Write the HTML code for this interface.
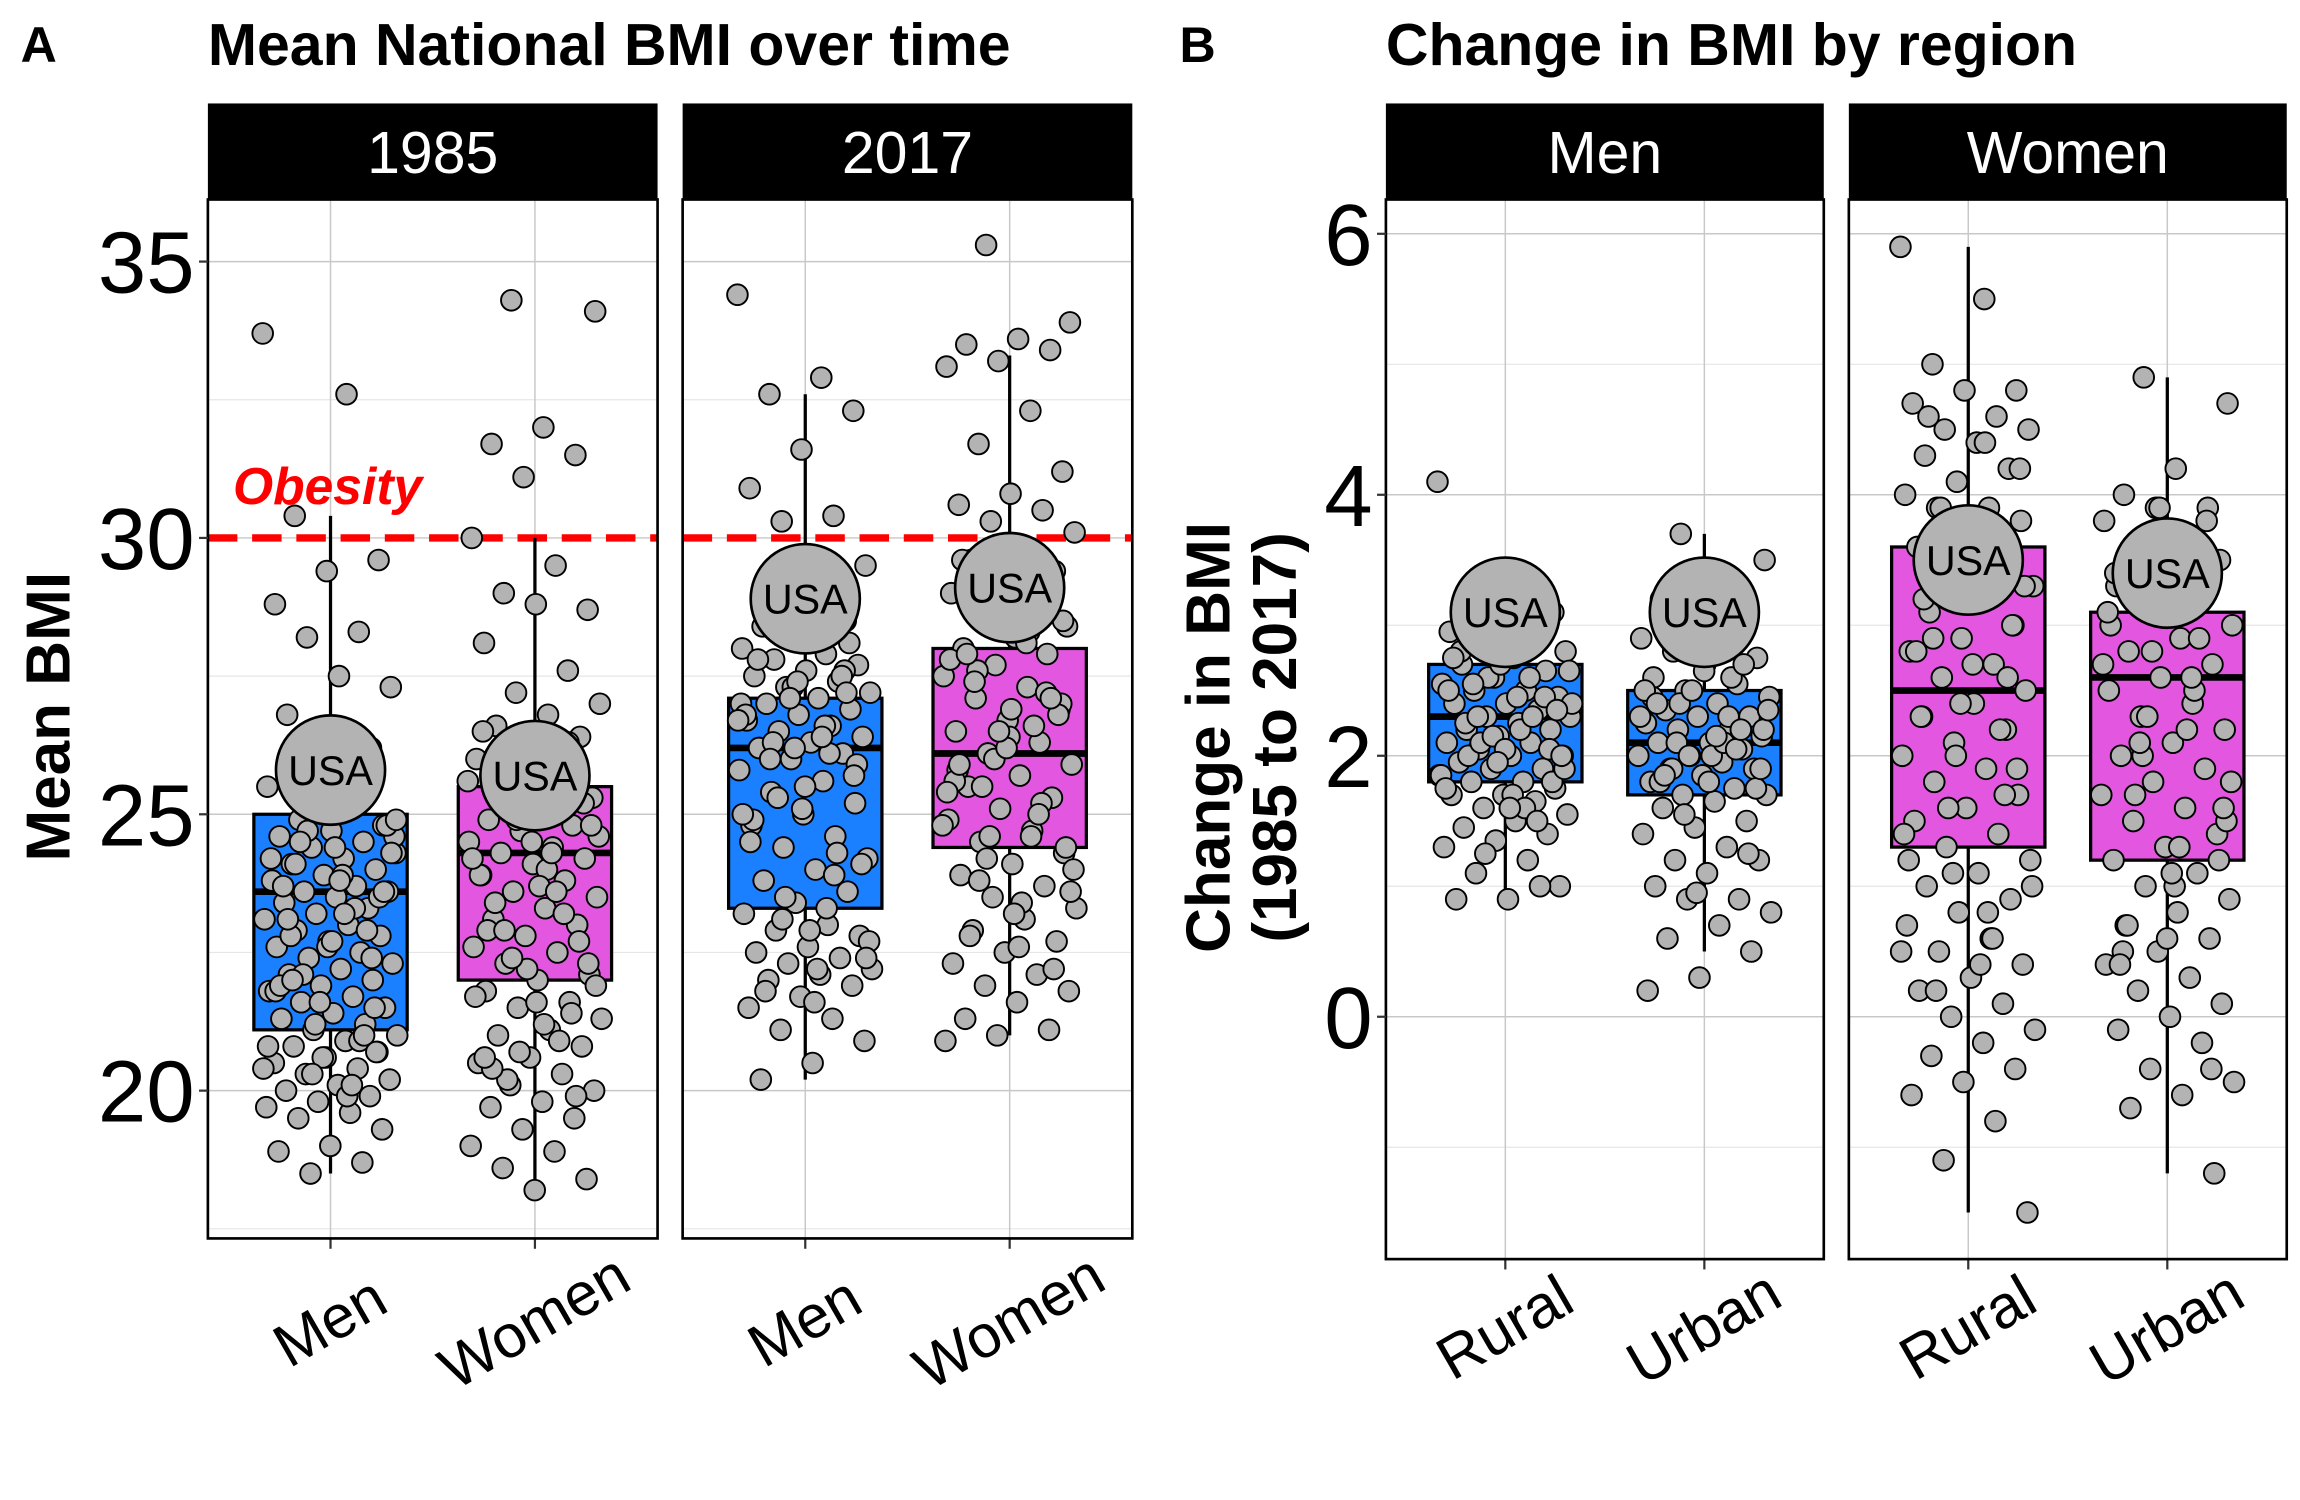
<!DOCTYPE html>
<html><head><meta charset="utf-8"><style>html,body{margin:0;padding:0;background:#fff}svg{display:block}text{font-family:"Liberation Sans",Arial,sans-serif}</style></head>
<body>
<svg id="fig" xmlns="http://www.w3.org/2000/svg" width="2300" height="1500" viewBox="0 0 1560 1015" preserveAspectRatio="none">
<rect x="0" y="0" width="1560" height="1015" fill="#fff"/>
<text x="14" y="42" font-size="34" font-weight="bold">A</text>
<text x="141" y="44" font-size="40" font-weight="bold">Mean National BMI over time</text>
<text x="800" y="42" font-size="34" font-weight="bold">B</text>
<text x="940" y="44" font-size="40" font-weight="bold">Change in BMI by region</text>
<text transform="translate(47,485) rotate(-90)" text-anchor="middle" font-size="42" font-weight="bold">Mean BMI</text>
<text transform="translate(834,499) rotate(-90)" text-anchor="middle" font-size="42" font-weight="bold">Change in BMI</text>
<text transform="translate(879,499) rotate(-90)" text-anchor="middle" font-size="42" font-weight="bold">(1985 to 2017)</text>
<g id="layer"></g>
</svg>
<script>
// ---- data ----
const catsA = ["Men","Women"];
const catsB = ["Rural","Urban"];
const panelsA = ["1985","2017"];
const panelsB = ["Men","Women"];
const ticksA = [20,25,30,35];
const ticksB = [0,2,4,6];
const obesity = 30;
// box stats: [lowWhisker, q1, median, q3, highWhisker]
const boxA1985Men = [18.5,21.1,23.6,25.0,30.4];
const boxA1985Women = [18.3,22.0,24.3,25.5,30.0];
const boxA2017Men = [20.2,23.3,26.2,27.1,32.6];
const boxA2017Women = [21.0,24.4,26.1,28.0,33.3];
const boxBMenRural = [0.9,1.8,2.3,2.7,3.3];
const boxBMenUrban = [0.5,1.7,2.1,2.5,3.7];
const boxBWomenRural = [-1.5,1.3,2.5,3.6,5.9];
const boxBWomenUrban = [-1.2,1.2,2.6,3.1,4.9];
const usaA = [25.8,25.7,28.9,29.1];
const usaB = [3.1,3.1,3.5,3.4];
const ptsA1985Men = [33.7,32.6,30.4,29.6,29.4,28.8,28.3,28.2,27.3,27.5,26.8,26.2,26.0,25.5,25.2,24.9,24.8,24.7,24.6,24.5,24.4,24.3,24.2,24.1,24.0,23.9,23.8,23.7,23.6,23.6,23.5,23.4,23.3,23.2,23.1,23.0,22.9,22.8,22.7,22.6,22.5,22.4,22.3,22.2,22.1,22.0,21.9,21.8,21.7,21.6,21.5,21.4,21.3,21.2,21.1,21.0,20.9,20.8,20.7,20.6,20.5,20.4,20.3,20.2,20.1,20.0,19.9,19.8,19.7,19.6,19.5,19.3,19.0,18.9,18.7,18.5,24.6,23.9,22.8,21.5,20.6,24.2,23.3,22.1,24.8,24.4,23.7,22.9,21.2,20.4,19.9,24.1,23.5,22.6,21.8,20.9,24.7,24.3,23.8,23.1,22.4,21.6,20.8,20.1,24.5,23.6,22.7,21.9,21.0,20.3,24.9,23.2,22.0,20.7];
const ptsA1985Women = [34.3,34.1,32.0,31.7,31.5,31.1,30.0,29.5,29.0,28.7,28.8,28.1,27.6,27.2,27.0,26.8,26.6,26.4,26.2,26.0,25.8,25.5,25.3,25.1,24.9,24.8,24.7,24.5,24.4,24.3,24.2,24.1,23.9,23.8,23.6,23.5,23.3,23.1,23.0,22.8,22.6,22.5,22.3,22.1,22.0,21.8,21.6,21.5,21.3,21.1,21.0,20.8,20.6,20.5,20.3,20.1,20.0,19.8,19.7,19.5,19.3,19.0,18.9,18.6,18.4,18.2,26.5,25.9,25.0,24.6,24.0,23.4,22.7,22.2,21.7,20.9,20.2,24.8,23.7,22.9,21.4,20.7,25.6,24.3,26.1,25.2,24.5,23.9,23.2,22.4,21.9,21.2,20.4,19.9,25.4,24.2,23.6,22.9,22.3,21.6,20.6,26.3,24.9];
const ptsA2017Men = [34.4,32.9,32.6,32.3,31.6,30.9,30.4,30.3,29.5,29.1,28.8,28.5,28.2,28.0,27.9,27.8,27.7,27.6,27.5,27.4,27.3,27.2,27.1,27.0,26.9,26.8,26.7,26.6,26.5,26.4,26.3,26.2,26.1,26.0,25.8,25.6,25.4,25.2,25.0,24.8,24.6,24.4,24.2,24.0,23.8,23.6,23.4,23.2,23.0,22.9,22.8,22.6,22.5,22.4,22.3,22.2,22.1,22.0,21.9,21.7,21.5,21.3,21.1,20.9,20.5,20.2,27.6,27.3,27.0,26.6,26.3,25.9,25.5,24.9,24.3,23.5,22.7,22.2,21.8,28.1,27.4,26.8,26.1,25.3,24.1,22.9,27.8,27.5,27.1,26.7,26.4,26.0,25.7,25.1,24.5,23.9,23.1,22.4,21.6,28.4,27.2,26.2,25.0,23.3];
const ptsA2017Women = [35.3,33.9,33.6,33.5,33.4,33.2,33.1,32.3,31.7,31.2,30.8,30.6,30.5,30.3,30.1,29.8,29.6,29.4,29.2,29.0,28.8,28.6,28.4,28.2,28.0,27.9,27.7,27.5,27.3,27.1,26.9,26.7,26.5,26.3,26.1,25.9,25.7,25.5,25.3,25.1,24.9,24.7,24.5,24.3,24.1,23.9,23.7,23.5,23.3,23.1,22.9,22.7,22.5,22.3,22.1,21.9,21.8,21.6,21.3,21.1,21.0,20.9,28.3,27.6,27.0,26.4,25.8,25.2,24.6,24.0,23.4,22.8,22.2,28.9,27.8,26.6,25.5,24.4,23.2,29.6,27.2,26.0,24.8,28.1,27.4,26.8,26.2,25.6,25.0,24.2,23.6,22.6,27.9,27.1,26.5,25.4,24.6,23.8,28.5,26.9,25.9];
const ptsBMenRural = [4.1,3.3,3.2,3.1,3.0,2.95,2.9,2.85,2.8,2.75,2.7,2.65,2.6,2.55,2.5,2.5,2.45,2.4,2.4,2.35,2.3,2.3,2.25,2.2,2.2,2.15,2.1,2.1,2.05,2.0,2.0,1.95,1.9,1.9,1.85,1.8,1.8,1.75,1.7,1.7,1.65,1.6,1.55,1.5,1.45,1.4,1.35,1.3,1.2,1.1,1.0,0.9,0.9,1.0,2.6,2.4,2.2,2.0,1.8,2.7,2.5,2.3,2.1,1.9,1.7,2.8,2.45,2.15,1.85,1.6,2.55,2.35,2.05,2.75,1.5,1.25,2.65,2.45,2.25,2.05,1.95,1.75,2.6,2.3,2.0,1.6];
const ptsBMenUrban = [3.7,3.5,3.3,3.2,3.1,3.0,2.9,2.85,2.8,2.75,2.7,2.6,2.55,2.5,2.45,2.4,2.35,2.3,2.3,2.25,2.2,2.2,2.15,2.1,2.1,2.05,2.0,2.0,1.95,1.9,1.9,1.85,1.8,1.75,1.7,1.7,1.65,1.6,1.5,1.45,1.4,1.3,1.2,1.2,1.1,1.0,0.9,0.9,0.8,0.7,0.6,0.5,0.3,0.2,2.6,2.4,2.2,2.0,1.8,2.7,2.5,2.3,2.1,1.9,1.75,2.65,2.45,2.05,1.55,2.35,2.15,1.85,1.25,0.95,2.5,2.3,2.1,1.9,1.8,2.4,2.2,2.0];
const ptsBWomenRural = [5.9,5.5,5.0,4.8,4.8,4.7,4.6,4.5,4.5,4.4,4.3,4.2,4.1,4.0,3.9,3.9,3.8,3.7,3.6,3.5,3.4,3.3,3.2,3.1,3.0,2.9,2.8,2.7,2.6,2.5,2.4,2.3,2.2,2.1,2.0,1.9,1.8,1.7,1.6,1.5,1.4,1.3,1.2,1.1,1.0,0.9,0.8,0.7,0.6,0.5,0.4,0.3,0.2,0.1,0.0,-0.1,-0.2,-0.3,-0.4,-0.5,-0.6,-0.8,-1.1,-1.5,3.8,3.2,2.6,2.0,1.4,0.8,0.2,4.2,3.5,2.8,2.2,1.6,1.0,0.4,4.6,3.0,2.4,1.2,0.6,3.9,3.3,2.7,2.3,1.7,1.1,0.5,4.4,2.9,1.9];
const ptsBWomenUrban = [4.9,4.7,4.2,4.0,3.9,3.9,3.8,3.7,3.6,3.5,3.4,3.3,3.2,3.1,3.0,2.9,2.8,2.7,2.6,2.5,2.4,2.3,2.2,2.1,2.0,1.9,1.8,1.7,1.6,1.5,1.4,1.3,1.2,1.1,1.0,0.9,0.8,0.7,0.6,0.5,0.4,0.3,0.2,0.1,0.0,-0.1,-0.2,-0.4,-0.5,-0.6,-0.7,-1.2,3.6,3.0,2.5,2.0,1.5,1.0,0.5,3.8,3.3,2.7,2.2,1.7,1.2,0.6,3.4,2.9,2.3,1.8,1.3,0.7,-0.4,3.9,3.1,2.6,2.1,1.6,1.1,0.4,3.5,2.8];

// ---- layout ----
const NS="http://www.w3.org/2000/svg";
const layer=document.getElementById('layer');
function mk(tag,attrs,parent){const e=document.createElementNS(NS,tag);for(const k in attrs)e.setAttribute(k,attrs[k]);(parent||layer).appendChild(e);return e;}
const topY=135, botA=838, botB=852;
const yA=v=>364-(v-30)*37.4;
const yB=v=>688-v*88.3;
function xPos(p0,w,i){return p0+(i+1-0.4)/2.2*w;}
function jit(i){return (((i*0.6180339887)%1)-0.5)*2;}

function panel(px,w,bot,stripLabel,ys,ticks,minors,cats,boxes,colors,pts,usa,isA,pi){
  const g=mk('g',{});
  
  
  mk('rect',{x:px,y:topY,width:w,height:bot-topY,fill:'#fff'},g);
  minors.forEach(v=>{const l=mk('line',{x1:px,x2:px+w,y1:ys(v),y2:ys(v),stroke:'#e6e6e6','stroke-width':0.8},g);
    });
  ticks.forEach(v=>{const l=mk('line',{x1:px,x2:px+w,y1:ys(v),y2:ys(v),stroke:'#c8c8c8','stroke-width':1},g);
    });
  cats.forEach((c,i)=>{const x=xPos(px,w,i);const l=mk('line',{x1:x,x2:x,y1:topY,y2:bot,stroke:'#c8c8c8','stroke-width':1},g);
    });
  if(isA){const ob=mk('line',{x1:px,x2:px+w,y1:ys(obesity),y2:ys(obesity),stroke:'#ff0000','stroke-width':5,'stroke-dasharray':'20,10'},g);
    }
  cats.forEach((c,i)=>{
    const x=xPos(px,w,i), b=boxes[i], hw=52;
    const wl=mk('line',{x1:x,x2:x,y1:ys(b[0]),y2:ys(b[4]),stroke:'#000','stroke-width':2.2},g);
    
    const r=mk('rect',{x:x-hw,y:ys(b[3]),width:2*hw,height:ys(b[1])-ys(b[3]),fill:colors[i],stroke:'#000','stroke-width':2.2},g);
    
    const m=mk('line',{x1:x-hw,x2:x+hw,y1:ys(b[2]),y2:ys(b[2]),stroke:'#000','stroke-width':4.5},g);
    
    pts[i].forEach((v,k)=>{const p=mk('circle',{cx:x+jit(k+i*7)*46,cy:ys(v),r:7,fill:'#b3b3b3',stroke:'#000','stroke-width':1.3},g);
      });
    const uc=mk('circle',{cx:x,cy:ys(usa[i]),r:37,fill:'#b3b3b3',stroke:'#000','stroke-width':1.8},g);
    
    const ut=mk('text',{x:x,y:ys(usa[i])+10,'text-anchor':'middle','font-size':28},g);ut.textContent='USA';
    
    const tk=mk('line',{x1:x,x2:x,y1:bot,y2:bot+7,stroke:'#333','stroke-width':1.5},g);
    
    const yl=bot+(isA?70:60);
    const xt=mk('text',{x:x,y:yl,'text-anchor':'middle','font-size':41,transform:`rotate(-30 ${x} ${yl-13})`},g);xt.textContent=c;
    
  });
  const br=mk('rect',{x:px,y:topY,width:w,height:bot-topY,fill:'none',stroke:'#000','stroke-width':1.8},g);
  
  const st=mk('rect',{x:px,y:70,width:w,height:65,fill:'#000'},g);
  
  const stt=mk('text',{x:px+w/2,y:117,'text-anchor':'middle','font-size':40,fill:'#fff'},g);stt.textContent=stripLabel;
  
  if(pi===0){
    ticks.forEach(v=>{const t=mk('text',{x:px-9,y:ys(v)+21,'text-anchor':'end','font-size':59},g);t.textContent=v;
      
      const tl=mk('line',{x1:px-6,x2:px,y1:ys(v),y2:ys(v),stroke:'#333','stroke-width':1.5},g);
      });
  }
  if(isA&&pi===0){const ot=mk('text',{x:158,y:341,'font-size':35,'font-weight':'bold','font-style':'italic',fill:'#ff0000'},g);ot.textContent='Obesity';
    }
}
const blue='#1a80ff', pink='#e356e0';
panel(141,305,botA,panelsA[0],yA,ticksA,[17.5,22.5,27.5,32.5],catsA,[boxA1985Men,boxA1985Women],[blue,pink],[ptsA1985Men,ptsA1985Women],[usaA[0],usaA[1]],true,0);
panel(463,305,botA,panelsA[1],yA,ticksA,[17.5,22.5,27.5,32.5],catsA,[boxA2017Men,boxA2017Women],[blue,pink],[ptsA2017Men,ptsA2017Women],[usaA[2],usaA[3]],true,1);
panel(940,297,botB,panelsB[0],yB,ticksB,[-1,1,3,5],catsB,[boxBMenRural,boxBMenUrban],[blue,blue],[ptsBMenRural,ptsBMenUrban],[usaB[0],usaB[1]],false,0);
panel(1254,297,botB,panelsB[1],yB,ticksB,[-1,1,3,5],catsB,[boxBWomenRural,boxBWomenUrban],[pink,pink],[ptsBWomenRural,ptsBWomenUrban],[usaB[2],usaB[3]],false,1);
</script>
</body></html>
